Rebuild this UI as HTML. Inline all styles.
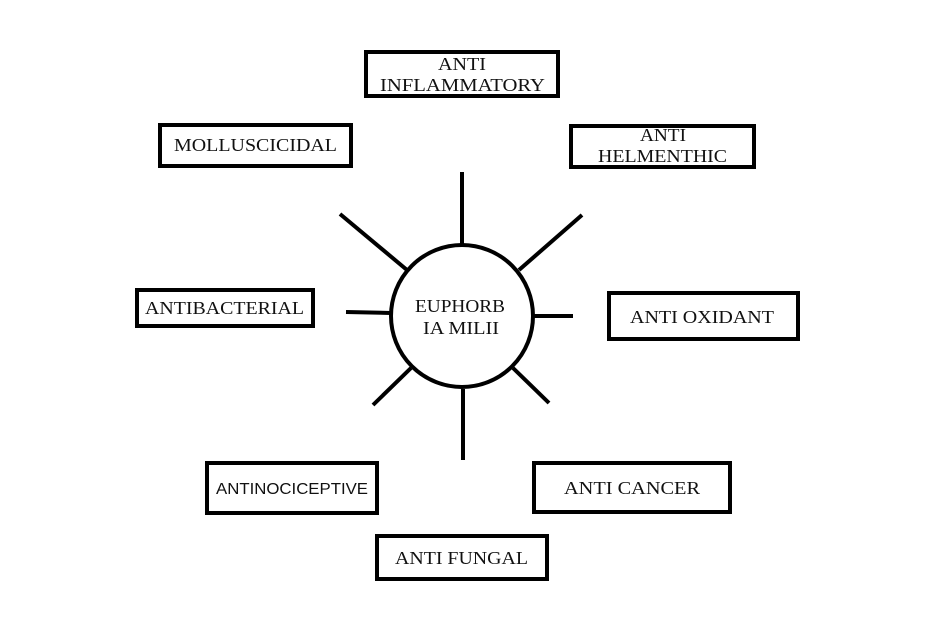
<!DOCTYPE html>
<html><head><meta charset="utf-8"><style>html,body{margin:0;padding:0;background:#fff}svg{display:block}text{font-family:"Liberation Serif",serif;font-size:18px;fill:#111}</style></head>
<body>
<svg width="929" height="631" viewBox="0 0 929 631" xmlns="http://www.w3.org/2000/svg">
<g fill="#fff" stroke="#000" stroke-width="4">
<rect x="366" y="52" width="192" height="44"/>
<rect x="160" y="125" width="191" height="41"/>
<rect x="571" y="126" width="183" height="41"/>
<rect x="137" y="290" width="176" height="36"/>
<rect x="609" y="293" width="189" height="46"/>
<rect x="207" y="463" width="170" height="50"/>
<rect x="534" y="463" width="196" height="49"/>
<rect x="377" y="536" width="170" height="43"/>
</g>
<g stroke="#000" stroke-width="4" fill="none">
<line x1="462" y1="172" x2="462" y2="244"/>
<line x1="340" y1="214" x2="407" y2="270"/>
<line x1="582" y1="215" x2="519" y2="270"/>
<line x1="346" y1="312" x2="391" y2="313"/>
<line x1="534" y1="316" x2="573" y2="316"/>
<line x1="373" y1="405" x2="411" y2="368"/>
<line x1="549" y1="403" x2="513" y2="368"/>
<line x1="463" y1="389" x2="463" y2="460"/>
<circle cx="462" cy="316" r="71" fill="#fff"/>
</g>
<g lengthAdjust="spacingAndGlyphs">
<text x="438" y="70" textLength="48" lengthAdjust="spacingAndGlyphs">ANTI</text>
<text x="380" y="91" textLength="165" lengthAdjust="spacingAndGlyphs">INFLAMMATORY</text>
<text x="174" y="151" textLength="163" lengthAdjust="spacingAndGlyphs">MOLLUSCICIDAL</text>
<text x="640" y="141" textLength="46" lengthAdjust="spacingAndGlyphs">ANTI</text>
<text x="598" y="162" textLength="129" lengthAdjust="spacingAndGlyphs">HELMENTHIC</text>
<text x="145" y="314" textLength="159" lengthAdjust="spacingAndGlyphs">ANTIBACTERIAL</text>
<text x="630" y="323" textLength="144" lengthAdjust="spacingAndGlyphs">ANTI OXIDANT</text>
<text x="216" y="494" textLength="152" lengthAdjust="spacingAndGlyphs" style="font-family:'Liberation Sans',sans-serif;font-size:16px">ANTINOCICEPTIVE</text>
<text x="564" y="494" textLength="136" lengthAdjust="spacingAndGlyphs">ANTI CANCER</text>
<text x="395" y="564" textLength="133" lengthAdjust="spacingAndGlyphs">ANTI FUNGAL</text>
<text x="415" y="312" textLength="90" lengthAdjust="spacingAndGlyphs">EUPHORB</text>
<text x="423" y="334" textLength="76" lengthAdjust="spacingAndGlyphs">IA MILII</text>
</g>
</svg>
</body></html>
